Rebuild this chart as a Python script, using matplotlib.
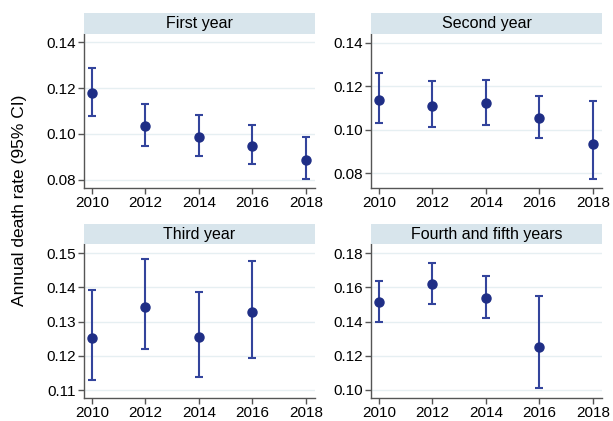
import numpy as np
import matplotlib.pyplot as plt
from matplotlib.patches import Rectangle

plt.rcParams["font.family"] = ["Liberation Sans", "DejaVu Sans"]

years = [2010, 2012, 2014, 2016, 2018]

panel_titles = ["First year", "Second year", "Third year", "Fourth and fifth years"]

rate_y1 = [0.1181, 0.1034, 0.0987, 0.0949, 0.0885]
lo_y1 = [0.1080, 0.0946, 0.0904, 0.0870, 0.0802]
hi_y1 = [0.1290, 0.1132, 0.1083, 0.1039, 0.0985]

rate_y2 = [0.1136, 0.1111, 0.1121, 0.1053, 0.0936]
lo_y2 = [0.1031, 0.1013, 0.1023, 0.0962, 0.0771]
hi_y2 = [0.1259, 0.1226, 0.1231, 0.1154, 0.1130]

years_y3 = [2010, 2012, 2014, 2016]
rate_y3 = [0.1253, 0.1344, 0.1256, 0.1327]
lo_y3 = [0.1129, 0.1220, 0.1139, 0.1194]
hi_y3 = [0.1393, 0.1483, 0.1388, 0.1476]

years_y45 = [2010, 2012, 2014, 2016]
rate_y45 = [0.1513, 0.1619, 0.1540, 0.1252]
lo_y45 = [0.1400, 0.1501, 0.1423, 0.1010]
hi_y45 = [0.1640, 0.1745, 0.1667, 0.1552]

yticks = [
    [0.08, 0.10, 0.12, 0.14],
    [0.08, 0.10, 0.12, 0.14],
    [0.11, 0.12, 0.13, 0.14, 0.15],
    [0.10, 0.12, 0.14, 0.16, 0.18],
]
ylims = [(0.0764, 0.1437), (0.0731, 0.1441), (0.1076, 0.1526), (0.0951, 0.1853)]

series = [
    (years, rate_y1, lo_y1, hi_y1),
    (years, rate_y2, lo_y2, hi_y2),
    (years_y3, rate_y3, lo_y3, hi_y3),
    (years_y45, rate_y45, lo_y45, hi_y45),
]

W, H = 613, 421
fig = plt.figure(figsize=(W / 100, H / 100), dpi=100)

# axes boxes in pixels: (left, top, right, bottom)
boxes = [
    (84, 34, 315, 188),
    (371, 34, 602, 188),
    (84, 244.3, 315, 398.3),
    (371, 244.3, 602, 398.3),
]
strip_h = 20.5
strip_col = "#d8e5ec"
grid_col = "#e6eff2"
mark_col = "#1f2e86"
line_col = "#33449c"
spine_col = "#555555"

for k, (x0, y0, x1, y1) in enumerate(boxes):
    ax = fig.add_axes([x0 / W, 1 - y1 / H, (x1 - x0) / W, (y1 - y0) / H])
    xs, r, lo, hi = series[k]
    r = np.array(r)
    err = [r - np.array(lo), np.array(hi) - r]
    ax.errorbar(xs, r, yerr=err, fmt="o", color=mark_col, ecolor=line_col,
                ms=6.5, elinewidth=1.5, capsize=3, capthick=1.5, zorder=3)
    ax.set_xlim(2009.7, 2018.34)
    ax.set_ylim(*ylims[k])
    ax.set_xticks(years)
    ax.set_yticks(yticks[k])
    ax.set_yticklabels([f"{v:.2f}" for v in yticks[k]])
    ax.grid(True, axis="y", color=grid_col, linewidth=1.0)
    ax.set_axisbelow(True)
    for s in ["top", "right"]:
        ax.spines[s].set_visible(False)
    for s in ["left", "bottom"]:
        ax.spines[s].set_color(spine_col)
        ax.spines[s].set_linewidth(1.0)
    ax.tick_params(axis="both", labelsize=11, color=spine_col, length=4,
                   width=1.0, pad=1.5)
    # title strip
    fig.patches.append(Rectangle((x0 / W, 1 - y0 / H), (x1 - x0) / W, strip_h / H,
                                 transform=fig.transFigure, facecolor=strip_col,
                                 edgecolor="none"))
    fig.text((x0 + x1) / 2 / W, 1 - (y0 - strip_h / 2) / H, panel_titles[k],
             ha="center", va="center", fontsize=11.5)

fig.text(20 / W, 1 - 200 / H, "Annual death rate (95% CI)", rotation=90,
         ha="center", va="center", fontsize=12.5)

fig.savefig("out.png", dpi=100)
